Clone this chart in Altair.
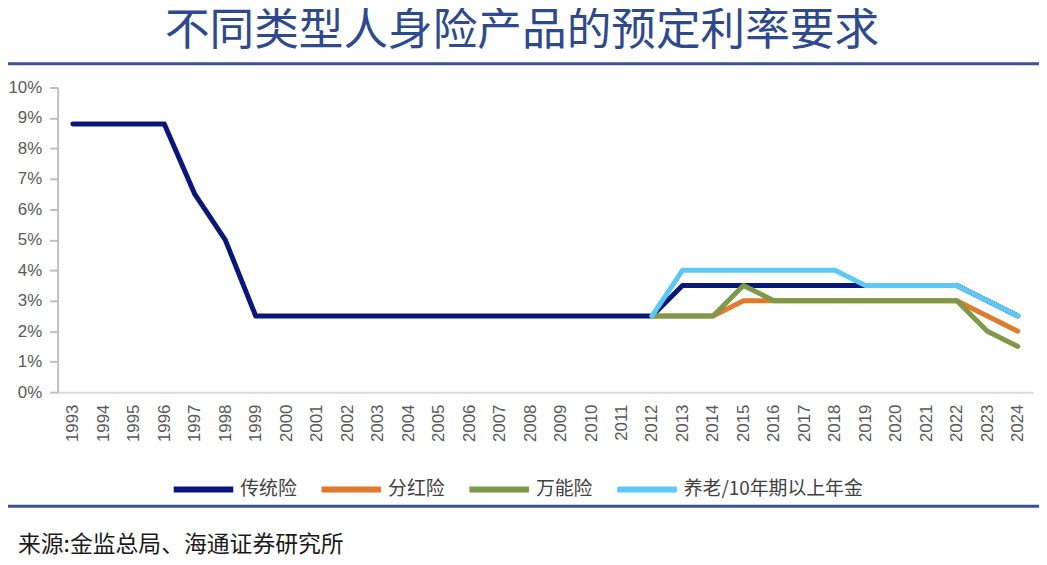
import altair as alt
import pandas as pd

years = [str(y) for y in range(1993, 2025)]
series_names = ["传统险", "分红险", "万能险", "养老/10年期以上年金"]
colors = ["#0A167A", "#E07B2E", "#7C9A48", "#5BC8F5"]

traditional = [8.8, 8.8, 8.8, 8.8, 6.5, 5.0, 2.5, 2.5, 2.5, 2.5, 2.5, 2.5, 2.5, 2.5, 2.5, 2.5,
               2.5, 2.5, 2.5, 2.5, 3.5, 3.5, 3.5, 3.5, 3.5, 3.5, 3.5, 3.5, 3.5, 3.5, 3.0, 2.5]
dividend = [None] * 19 + [2.5, 2.5, 2.5, 3.0, 3.0, 3.0, 3.0, 3.0, 3.0, 3.0, 3.0, 2.5, 2.0]
universal = [None] * 19 + [2.5, 2.5, 2.5, 3.5, 3.0, 3.0, 3.0, 3.0, 3.0, 3.0, 3.0, 2.0, 1.5]
pension = [None] * 19 + [2.5, 4.0, 4.0, 4.0, 4.0, 4.0, 4.0, 3.5, 3.5, 3.5, 3.5, 3.0, 2.5]

title_text = "不同类型人身险产品的预定利率要求"
source_text = "来源:金监总局、海通证券研究所"

rows = []
for name, vals in zip(series_names, [traditional, dividend, universal, pension]):
    for y, v in zip(years, vals):
        if v is not None:
            rows.append({"year": y, "rate": v / 100, "series": name})
df = pd.DataFrame(rows)

W, H = 983, 307
CJK = "Noto Sans CJK SC"
LAT = "Liberation Sans"

lines = alt.Chart(df).mark_line(strokeWidth=5, strokeJoin="round", strokeCap="round").encode(
    x=alt.X("year:O", scale=alt.Scale(type="point", domain=years, padding=0.5),
            axis=alt.Axis(title=None, labelAngle=270, labelAlign="right", labelBaseline="middle",
                          labelFont=LAT, labelFontSize=17, labelColor="#595959", labelPadding=12,
                          ticks=False, domainColor="#D9D9D9", domainWidth=2)),
    y=alt.Y("rate:Q", scale=alt.Scale(domain=[0, 0.10]),
            axis=alt.Axis(title=None, format=".0%", values=[i / 100 for i in range(11)],
                          grid=False, labelFont=LAT, labelFontSize=17, labelColor="#595959",
                          labelPadding=8, tickSize=8, tickColor="#BFBFBF", domainColor="#BFBFBF",
                          domainWidth=2, tickWidth=2)),
    color=alt.Color("series:N", scale=alt.Scale(domain=series_names, range=colors),
                    legend=alt.Legend(title=None, orient="none", legendX=114, legendY=372,
                                      direction="horizontal", symbolType="stroke",
                                      symbolSize=3600, symbolStrokeWidth=6, labelFont=CJK,
                                      labelFontSize=19, labelColor="#404040", columnPadding=12,
                                      labelOffset=4, labelLimit=400)),
    detail="series:N",
)

one = pd.DataFrame({"a": [0]})

title = alt.Chart(one).mark_text(font=CJK, fontSize=45, color="#2E4A8C", align="center",
                                 baseline="middle").encode(
    x=alt.value(468), y=alt.value(-57), text=alt.value(title_text))

top_rule = alt.Chart(one).mark_rule(color="#3B5392", strokeWidth=3).encode(
    x=alt.value(-50), x2=alt.value(W + 6), y=alt.value(-24))

bottom_rule = alt.Chart(one).mark_rule(color="#3B5392", strokeWidth=3).encode(
    x=alt.value(-50), x2=alt.value(W + 6), y=alt.value(508 - 86))

source = alt.Chart(one).mark_text(font=CJK, fontSize=23, color="#1A1A1A", align="left",
                                  baseline="middle").encode(
    x=alt.value(18 - 58), y=alt.value(547 - 86), text=alt.value(source_text))

chart = alt.layer(lines, title, top_rule, bottom_rule, source).properties(
    width=W, height=H,
    background="white",
    autosize=alt.AutoSizeParams(type="none"),
    padding={"left": 50, "top": 78, "right": 6, "bottom": 165},
).configure_view(stroke="transparent", strokeWidth=0)

chart.save("out.html", embed_options={"renderer": "svg", "actions": False})
